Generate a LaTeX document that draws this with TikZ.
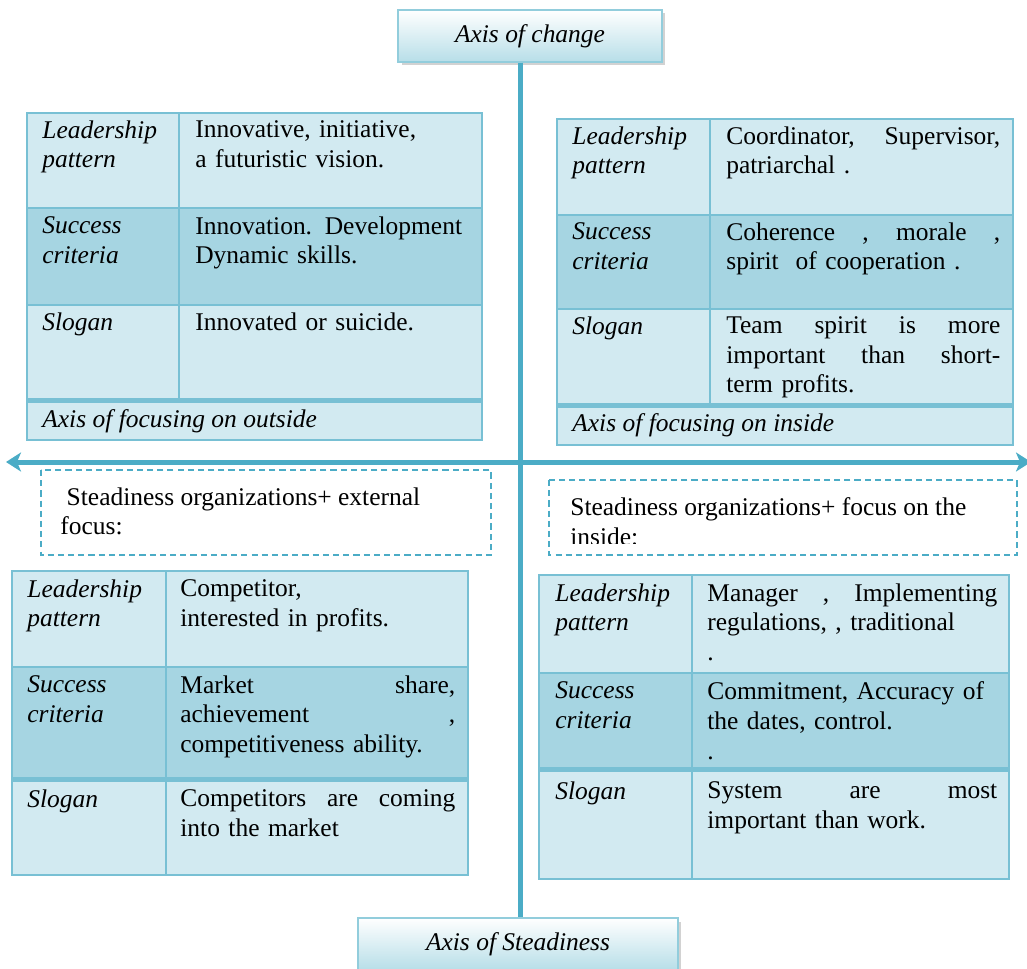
\documentclass[tikz,border=0pt]{standalone}
\usepackage{fontspec}
\setmainfont{Liberation Serif}
\usepackage{tikz}
\usetikzlibrary{arrows.meta, shadows}
\definecolor{axisblue}{RGB}{75,172,198}
\definecolor{boxblue}{RGB}{183,222,232}
\definecolor{boxedge}{RGB}{146,205,220}
\definecolor{celllight}{RGB}{210,234,241}
\definecolor{celldark}{RGB}{166,213,226}
\definecolor{cellline}{RGB}{120,192,212}

\begin{document}
\begin{tikzpicture}[
    x=0.02cm, y=-0.02cm,
    font=\fontsize{14.5}{17}\selectfont,
    axisbox/.style={draw=boxedge, line width=0.8pt, top color=white, bottom color=boxblue,
                    drop shadow={shadow xshift=0.07cm, shadow yshift=-0.07cm, fill=black!35},
                    minimum height=1.04cm, font=\fontsize{14.5}{17}\selectfont\itshape},
    axisline/.style={draw=axisblue, line width=0.1cm},
    tabline/.style={draw=cellline, line width=1pt},
    band/.style={draw=cellline, line width=0.1cm},
    lab/.style={anchor=north west, inner sep=0pt, align=left,
                font=\fontsize{14.5}{17}\selectfont\itshape},
    txt/.style={anchor=north west, inner sep=0pt, align=left, text width=#1},
    foot/.style={anchor=west, inner sep=0pt, font=\fontsize{14.5}{17}\selectfont\itshape},
    dashbox/.style={draw=axisblue, line width=0.9pt, dash pattern=on 3.5pt off 2.3pt},
    note/.style={anchor=north west, inner sep=0pt, align=left},
]
  \useasboundingbox (0,0) rectangle (1027,969);

  % upper left: change + outside
  \fill[celllight] (27,113) rectangle (482,440);
  \fill[celldark] (27,208) rectangle (482,305);
  \draw[tabline] (27,113) rectangle (482,440) (27,208) -- (482,208) (27,305) -- (482,305)
                 (179,113) -- (179,400);
  \draw[band] (27,400.5) -- (482,400.5);
  \node[lab] (tl-lead) at (42,120) {Leadership\\pattern};
  \node[txt=5.6cm] (tl-lead-v) at (195,120) {Innovative, initiative,\\a futuristic vision.};
  \node[lab] (tl-succ) at (42,216) {Success\\criteria};
  \node[txt=5.6cm] (tl-succ-v) at (195,216) {Innovation. Development\\Dynamic skills.};
  \node[lab] (tl-slog) at (42,312) {Slogan};
  \node[txt=5.6cm] (tl-slog-v) at (195,312) {Innovated or suicide.};
  \node[foot] (tl-axis) at (42,421) {Axis of focusing on outside};

  % upper right: change + inside
  \fill[celllight] (557,119) rectangle (1013,445);
  \fill[celldark] (557,215) rectangle (1013,309);
  \draw[tabline] (557,119) rectangle (1013,445) (557,215) -- (1013,215) (557,309) -- (1013,309)
                 (710,119) -- (710,405);
  \draw[band] (557,405.5) -- (1013,405.5);
  \node[lab] (tr-lead) at (572,126) {Leadership\\pattern};
  \node[txt=5.48cm] (tr-lead-v) at (726,126) {Coordinator,\hfill Supervisor,\\patriarchal .};
  \node[lab] (tr-succ) at (572,222) {Success\\criteria};
  \node[txt=5.48cm] (tr-succ-v) at (726,222) {Coherence\hfill ,\hfill morale\hfill ,\\spirit\ \ of cooperation .};
  \node[lab] (tr-slog) at (572,316) {Slogan};
  \node[txt=5.48cm] (tr-slog-v) at (726,316) {Team\hfill spirit\hfill is\hfill more\\important\hfill than\hfill short-\\term profits.};
  \node[foot] (tr-axis) at (572,425) {Axis of focusing on inside};

  % lower left: steadiness + outside
  \fill[celllight] (12,571) rectangle (468,875);
  \fill[celldark] (12,667) rectangle (468,779);
  \draw[tabline] (12,571) rectangle (468,875) (12,667) -- (468,667) (166,571) -- (166,875);
  \draw[band] (12,779.5) -- (468,779.5);
  \node[lab] (bl-lead) at (27,579) {Leadership\\pattern};
  \node[txt=5.5cm] (bl-lead-v) at (180,579) {Competitor,\\interested in profits.};
  \node[lab] (bl-succ) at (27,675) {Success\\criteria};
  \node[txt=5.5cm] (bl-succ-v) at (180,675) {Market\hfill share,\\achievement\hfill ,\\competitiveness ability.};
  \node[lab] (bl-slog) at (27,789) {Slogan};
  \node[txt=5.5cm] (bl-slog-v) at (180,789) {Competitors\hfill are\hfill coming\\into the market};

  % lower right: steadiness + inside
  \fill[celllight] (539,575) rectangle (1009,879);
  \fill[celldark] (539,673) rectangle (1009,769);
  \draw[tabline] (539,575) rectangle (1009,879) (539,673) -- (1009,673) (692,575) -- (692,879);
  \draw[band] (539,769.5) -- (1009,769.5);
  \node[lab] (br-lead) at (555,583) {Leadership\\pattern};
  \node[txt=5.8cm] (br-lead-v) at (707,583) {Manager\hfill ,\hfill Implementing\\regulations, , traditional\\.};
  \node[lab] (br-succ) at (555,681) {Success\\criteria};
  \node[txt=5.8cm] (br-succ-v) at (707,681) {Commitment, Accuracy of\\the dates, control.\\.};
  \node[lab] (br-slog) at (555,781) {Slogan};
  \node[txt=5.8cm] (br-slog-v) at (707,781) {System\hfill are\hfill most\\important than work.};

  % the two axes
  \node[axisbox, minimum width=5.28cm] (change) at (530,36) {Axis of change};
  \node[axisbox, minimum width=6.4cm] (steady) at (518,944) {Axis of Steadiness};
  \coordinate (mid) at (520,462);
  \coordinate (west) at (6,462);
  \coordinate (east) at (1031,462);
  \draw[axisline] (change.south -| mid) -- (steady.north -| mid);
  \draw[axisline, {Stealth[length=0.3cm, width=0.38cm, inset=0.08cm]}-{Stealth[length=0.3cm, width=0.38cm, inset=0.08cm]}]
    (west) -- (east);

  % dashed notes under the horizontal axis
  \draw[dashbox] (41,470) rectangle (491,555);
  \node[note] (outer-focus) at (60,487) {\ Steadiness organizations+ external\\focus:};
  \draw[dashbox] (549,480) rectangle (1017,555);
  \begin{scope}
    \clip (549,480) rectangle (1017,543);
    \node[note] (inner-focus) at (570,497) {Steadiness organizations+ focus on the\\inside:};
  \end{scope}
\end{tikzpicture}
\end{document}
